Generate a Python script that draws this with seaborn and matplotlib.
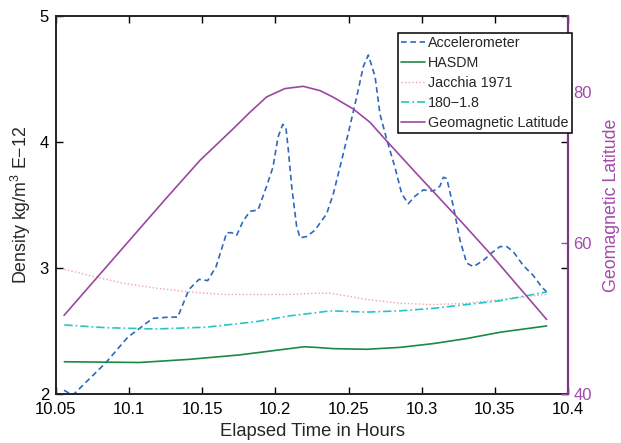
import numpy as np
import pandas as pd
import matplotlib
matplotlib.use("Agg")
import matplotlib.pyplot as plt
import seaborn as sns

# ---------------- data ----------------
acc_t = [10.0555, 10.0614, 10.0842, 10.0990, 10.1161, 10.1272, 10.1332, 10.1409, 10.1478,
         10.1537, 10.1594, 10.1667, 10.1701, 10.1735, 10.1778, 10.1826, 10.1881, 10.1940,
         10.1983, 10.2018, 10.2050, 10.2072, 10.2088, 10.2111, 10.2145, 10.2168, 10.2214,
         10.2270, 10.2350, 10.2396, 10.2441, 10.2498, 10.2556, 10.2601, 10.2635, 10.2681,
         10.2715, 10.2761, 10.2817, 10.2863, 10.2908, 10.2954, 10.3011, 10.3079, 10.3125,
         10.3148, 10.3171, 10.3216, 10.3262, 10.3307, 10.3353, 10.3421, 10.3478, 10.3535,
         10.3581, 10.3626, 10.3694, 10.3763, 10.3820, 10.3854]
acc_v = [2.03, 1.99, 2.25, 2.45, 2.60, 2.61, 2.61, 2.83, 2.91,
         2.90, 3.01, 3.28, 3.28, 3.26, 3.37, 3.45, 3.46, 3.65,
         3.80, 4.04, 4.14, 4.11, 3.94, 3.65, 3.33, 3.24, 3.25,
         3.30, 3.43, 3.59, 3.80, 4.07, 4.36, 4.60, 4.69, 4.52,
         4.22, 4.02, 3.80, 3.59, 3.51, 3.57, 3.62, 3.61, 3.65,
         3.72, 3.71, 3.49, 3.22, 3.04, 3.01, 3.06, 3.12, 3.17,
         3.17, 3.13, 3.02, 2.94, 2.85, 2.81]

hasdm_t = [10.0557, 10.1069, 10.1411, 10.1753, 10.2095, 10.2197, 10.2277, 10.2396,
           10.2624, 10.2852, 10.3079, 10.3307, 10.3535, 10.3854]
hasdm_v = [2.256, 2.25, 2.275, 2.31, 2.36, 2.375, 2.37, 2.36,
           2.355, 2.37, 2.40, 2.44, 2.49, 2.54]

jac_t = [10.0557, 10.0728, 10.0956, 10.1184, 10.1411, 10.1640, 10.1867, 10.2095,
         10.2277, 10.2373, 10.2624, 10.2852, 10.3079, 10.3307, 10.3535, 10.3854]
jac_v = [2.99, 2.94, 2.88, 2.84, 2.81, 2.79, 2.79, 2.79,
         2.80, 2.80, 2.75, 2.72, 2.71, 2.72, 2.75, 2.79]

c18_t = [10.0557, 10.0842, 10.1184, 10.1525, 10.1867, 10.2095, 10.2277, 10.2373,
         10.2624, 10.2852, 10.3079, 10.3307, 10.3535, 10.3854]
c18_v = [2.548, 2.526, 2.516, 2.53, 2.574, 2.62, 2.645, 2.66,
         2.65, 2.66, 2.68, 2.71, 2.74, 2.81]

lat_t = [10.0555, 10.1240, 10.1484, 10.1712, 10.1826, 10.1940, 10.2065, 10.2190,
         10.2305, 10.2396, 10.2532, 10.2646, 10.2737, 10.2966, 10.3262, 10.3478, 10.3854]
lat_v = [50.4, 65.6, 70.9, 75.1, 77.27, 79.3, 80.4, 80.7,
         80.13, 79.25, 77.7, 75.95, 73.97, 69.13, 62.97, 58.35, 49.86]

x_ticks = [10.05, 10.1, 10.15, 10.2, 10.25, 10.3, 10.35, 10.4]
x_ticklabels = ["10.05", "10.1", "10.15", "10.2", "10.25", "10.3", "10.35", "10.4"]
y_ticks = [2, 3, 4, 5]
lat_ticks = [40, 60, 80]

# ---------------- style ----------------
sns.set_style("ticks")
plt.rcParams["font.family"] = ["Liberation Sans", "DejaVu Sans"]
plt.rcParams["mathtext.fontset"] = "custom"
plt.rcParams["mathtext.rm"] = "Liberation Sans"
plt.rcParams["mathtext.it"] = "Liberation Sans"

C_ACC = "#2f68bd"
C_HAS = "#1b8a44"
C_JAC = "#f4a2a6"
C_C18 = "#27c4c6"
C_LAT = "#9b47a2"
C_SPINE = "#7d3a84"
C_LATTXT = "#a24aab"

fig = plt.figure(figsize=(6.21, 4.43), dpi=100)
ax = fig.add_axes([56 / 621, 49 / 443, 512 / 621, 378 / 443])
ax2 = ax.twinx()

df_acc = pd.DataFrame({"t": acc_t, "v": acc_v})
df_has = pd.DataFrame({"t": hasdm_t, "v": hasdm_v})
df_jac = pd.DataFrame({"t": jac_t, "v": jac_v})
df_c18 = pd.DataFrame({"t": c18_t, "v": c18_v})
df_lat = pd.DataFrame({"t": lat_t, "v": lat_v})

sns.lineplot(data=df_acc, x="t", y="v", ax=ax, sort=False, color=C_ACC, lw=1.2,
             label="Accelerometer", legend=False)
ax.lines[-1].set_dashes((3.4, 2.2))
sns.lineplot(data=df_has, x="t", y="v", ax=ax, sort=False, color=C_HAS, lw=1.2,
             label="HASDM", legend=False)
sns.lineplot(data=df_jac, x="t", y="v", ax=ax, sort=False, color=C_JAC, lw=1.0,
             label="Jacchia 1971", legend=False)
ax.lines[-1].set_dashes((1, 1.6))
sns.lineplot(data=df_c18, x="t", y="v", ax=ax, sort=False, color=C_C18, lw=1.2,
             label="180\u22121.8", legend=False)
ax.lines[-1].set_dashes((5, 1.8, 1, 1.8))
sns.lineplot(data=df_lat, x="t", y="v", ax=ax2, sort=False, color=C_LAT, lw=1.2,
             label="Geomagnetic Latitude", legend=False)

ax.set_xlim(10.05, 10.4)
ax.set_ylim(2, 5)
ax2.set_ylim(40, 90)

ax.set_xticks(x_ticks)
ax.set_xticklabels(x_ticklabels)
ax.set_yticks(y_ticks)
ax.set_yticklabels([str(v) for v in y_ticks])
ax2.set_yticks(lat_ticks)
ax2.set_yticklabels([str(v) for v in lat_ticks])

ax.tick_params(axis="both", direction="in", length=5, width=1, labelsize=12,
               top=True, right=True, colors="black")
ax.tick_params(axis="x", pad=6)
ax.tick_params(axis="y", pad=5)
ax2.tick_params(axis="y", direction="in", length=5, width=1, labelsize=12,
                colors=C_LATTXT, pad=4)

for s in ["left", "bottom", "top"]:
    ax.spines[s].set_color("#222222")
    ax.spines[s].set_linewidth(1.4)
ax.spines["right"].set_visible(False)
for s in ["left", "bottom", "top"]:
    ax2.spines[s].set_visible(False)
ax2.spines["right"].set_color(C_SPINE)
ax2.spines["right"].set_linewidth(1.6)

ax.set_xlabel("Elapsed Time in Hours", fontsize=13.2, labelpad=4)
ax.set_ylabel("Density kg/m$^3$ E\u221212", fontsize=12.8, labelpad=5)
ax2.set_ylabel("Geomagnetic Latitude", fontsize=12.8, color=C_LATTXT, labelpad=8)

handles = ax.get_lines()[:4] + ax2.get_lines()[:1]
labels = [h.get_label() for h in handles]
leg = ax2.legend(handles, labels, loc="upper right",
                 bbox_to_anchor=(572 / 621, 1 - 32.5 / 443),
                 bbox_transform=fig.transFigure, fontsize=10.3, frameon=True,
                 fancybox=False, edgecolor="black", framealpha=1,
                 handlelength=1.7, handletextpad=0.2, labelspacing=0.42,
                 borderpad=0.22, borderaxespad=0)
leg.get_frame().set_linewidth(1.1)

fig.savefig("out.png", dpi=100)
